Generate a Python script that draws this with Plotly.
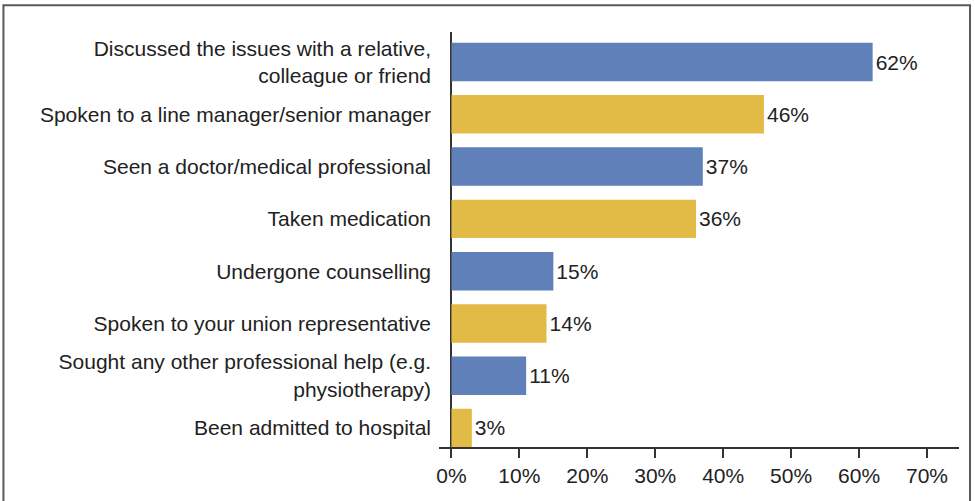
import plotly.graph_objects as go

categories = [
    "Discussed the issues with a relative,<br>colleague or friend",
    "Spoken to a line manager/senior manager",
    "Seen a doctor/medical professional",
    "Taken medication",
    "Undergone counselling",
    "Spoken to your union representative",
    "Sought any other professional help (e.g.<br>physiotherapy)",
    "Been admitted to hospital",
]
values = [62, 46, 37, 36, 15, 14, 11, 3]
value_labels = ["62%", "46%", "37%", "36%", "15%", "14%", "11%", "3%"]
tick_vals = [0, 10, 20, 30, 40, 50, 60, 70]
tick_text = ["0%", "10%", "20%", "30%", "40%", "50%", "60%", "70%"]

BLUE = "#5f80b9"
YELLOW = "#e2bb46"
colors = [BLUE if i % 2 == 0 else YELLOW for i in range(len(values))]

W, H = 975, 501
ml, mr, mt, mb = 439.3, 16, 32.3, 54.3
pw, ph = W - ml - mr, H - mt - mb

fig = go.Figure(
    go.Bar(
        x=values,
        y=categories,
        orientation="h",
        marker=dict(color=colors, line=dict(width=0)),
        text=value_labels,
        textposition="outside",
        textfont=dict(size=21, color="#222222", family="Liberation Sans, Arial, sans-serif"),
        cliponaxis=False,
        hoverinfo="skip",
    )
)

def px_x(px):
    return (px - ml) / pw

def px_y(py):
    return (H - mb - py) / ph

fig.add_shape(
    type="rect", xref="paper", yref="paper",
    x0=px_x(4), x1=px_x(970), y0=px_y(520), y1=px_y(5.5),
    line=dict(color="#5a5a5a", width=2), fillcolor="rgba(0,0,0,0)",
    layer="below",
)

fig.update_layout(
    width=W, height=H,
    margin=dict(l=ml, r=mr, t=mt, b=mb, pad=0),
    paper_bgcolor="white", plot_bgcolor="white",
    showlegend=False,
    bargap=0.264,
    font=dict(family="Liberation Sans, Arial, sans-serif", size=21, color="#222222"),
    xaxis=dict(
        range=[-1.83, 74.71],
        tickvals=tick_vals, ticktext=tick_text,
        showgrid=False,
        zeroline=True, zerolinecolor="#333333", zerolinewidth=1.5,
        showline=True, linecolor="#333333", linewidth=1.5,
        ticks="outside", ticklen=9, tickwidth=1.5, tickcolor="#333333",
        tickfont=dict(size=21, color="#222222"),
        fixedrange=True,
    ),
    yaxis=dict(
        type="category",
        range=[7.364, -0.575],
        showgrid=False, zeroline=False, showline=False,
        ticks="", ticklabelstandoff=7,
        tickfont=dict(size=21, color="#222222"),
        fixedrange=True,
    ),
)

fig.write_html(
    "out.html",
    config={"displayModeBar": False, "staticPlot": False},
    post_script="document.body.style.margin='0';document.body.style.overflow='hidden';",
)
